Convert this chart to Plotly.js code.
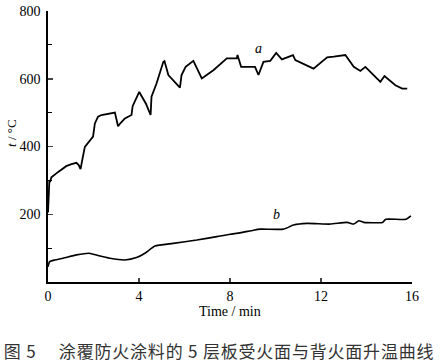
<!DOCTYPE html>
<html>
<head>
<meta charset="utf-8">
<script src="https://cdn.plot.ly/plotly-3.0.1.min.js"></script>
<style>body{margin:0;background:#fff;}#chart{width:442px;height:364px;}</style>
</head>
<body>
<div id="chart"></div>
<script>
// Curve a: fire-exposed face
const timeA = [0, 0.03, 0.06, 0.1, 0.15, 0.45, 0.8, 1.03, 1.25, 1.35, 1.43, 1.52, 1.62, 1.98, 2.06, 2.2, 2.35, 2.94, 3.08, 3.2, 3.38, 3.67, 3.72, 4.01, 4.3, 4.51, 4.55, 4.77, 4.95, 5.07, 5.12, 5.29, 5.8, 5.87, 6.05, 6.39, 6.76, 7.27, 7.86, 8.3, 8.33, 8.49, 9.1, 9.25, 9.47, 9.77, 10.03, 10.28, 10.77, 10.87, 11.67, 12.27, 12.56, 13.07, 13.44, 13.73, 13.95, 14.61, 14.79, 15.27, 15.57, 15.79];
const tempA = [205, 290, 300, 298, 309, 325, 342, 348, 352, 345, 333, 365, 399, 429, 468, 488, 493, 500, 460, 470, 483, 493, 519, 561, 527, 493, 547, 586, 625, 650, 652, 611, 574, 611, 635, 653, 601, 625, 660, 660, 670, 635, 635, 611, 650, 653, 676, 657, 670, 655, 630, 663, 665, 670, 635, 623, 635, 591, 608, 581, 571, 571];
// Curve b: unexposed (back) face
const timeB = [0, 0.07, 0.3, 0.66, 1.25, 1.81, 2.2, 2.72, 3.38, 3.89, 4.26, 4.7, 5.5, 6.54, 7.42, 8.0, 8.44, 9.03, 9.33, 10.35, 10.79, 11.38, 12.4, 13.15, 13.44, 13.66, 13.88, 14.7, 14.85, 15.73, 15.95];
const tempB = [45, 60, 65, 70, 80, 85, 78, 70, 65, 72, 85, 106, 114, 124, 134, 141, 145, 153, 156, 156, 168, 173, 171, 176, 171, 181, 176, 176, 185, 185, 195];

const xTicks = [0, 4, 8, 12, 16];
const yTicks = [0, 200, 400, 600, 800];
const yTickText = ['', '200', '400', '600', '800'];
const yMinor = [100, 300, 500, 700];

const curveLabels = ['a', 'b'];
const labelT = [9.24, 10.06];
const labelTemp = [688, 200];

const serif = 'Liberation Serif';

const traces = [
  {x: timeA, y: tempA, mode: 'lines', line: {color: '#000', width: 1.8}, hoverinfo: 'skip'},
  {x: timeB, y: tempB, mode: 'lines', line: {color: '#000', width: 1.6, shape: 'spline', smoothing: 0.5}, hoverinfo: 'skip'}
];

const annotations = curveLabels.map((s, i) => ({
  x: labelT[i], y: labelTemp[i], xref: 'x', yref: 'y', text: '<i>' + s + '</i>',
  showarrow: false, font: {family: serif, size: 14, color: '#000'}
}));
annotations.push({
  xref: 'paper', yref: 'paper', x: -0.099, y: 0.55, text: '<i>t</i> / °C', textangle: -90,
  showarrow: false, font: {family: serif, size: 13, color: '#000'}, xanchor: 'center', yanchor: 'middle'
});
annotations.push({
  xref: 'paper', yref: 'paper', x: 0.5, y: -0.11, text: 'Time / min',
  showarrow: false, font: {family: serif, size: 14, color: '#000'}, xanchor: 'center', yanchor: 'middle'
});
annotations.push({
  xref: 'paper', yref: 'paper', x: -0.0965, y: -0.251, text: '图 5　 涂覆防火涂料的 5 层板受火面与背火面升温曲线',
  showarrow: false, font: {family: 'Noto Sans CJK SC', size: 17, color: '#333'}, xanchor: 'left', yanchor: 'middle'
});

const layout = {
  width: 442, height: 364,
  margin: {l: 48, r: 30, t: 11, b: 82},
  paper_bgcolor: '#fff', plot_bgcolor: '#fff',
  showlegend: false,
  xaxis: {
    range: [0, 16], tickmode: 'array', tickvals: xTicks, ticks: 'inside', ticklen: 4, tickwidth: 1.5,
    showline: true, linecolor: '#000', linewidth: 1.8, showgrid: false, zeroline: false,
    tickfont: {family: serif, size: 14, color: '#000'}, ticklabelstandoff: 0
  },
  yaxis: {
    range: [0, 800], tickmode: 'array', tickvals: yTicks, ticktext: yTickText, ticks: 'inside', ticklen: 5, tickwidth: 1.5,
    minor: {tickmode: 'array', tickvals: yMinor, ticks: 'inside', ticklen: 4, tickwidth: 1.2, tickcolor: '#000', showgrid: false},
    showline: true, linecolor: '#000', linewidth: 1.8, showgrid: false, zeroline: false,
    tickfont: {family: serif, size: 14, color: '#000'}, ticklabelstandoff: 3
  },
  annotations: annotations
};

Plotly.newPlot('chart', traces, layout, {staticPlot: true, displayModeBar: false}).then(() => {
  const texts = document.querySelectorAll('.annotation-text');
  texts.forEach(t => {
    if (t.textContent.indexOf('图') === 0) t.style.letterSpacing = '0.8px';
  });
});
</script>
</body>
</html>
